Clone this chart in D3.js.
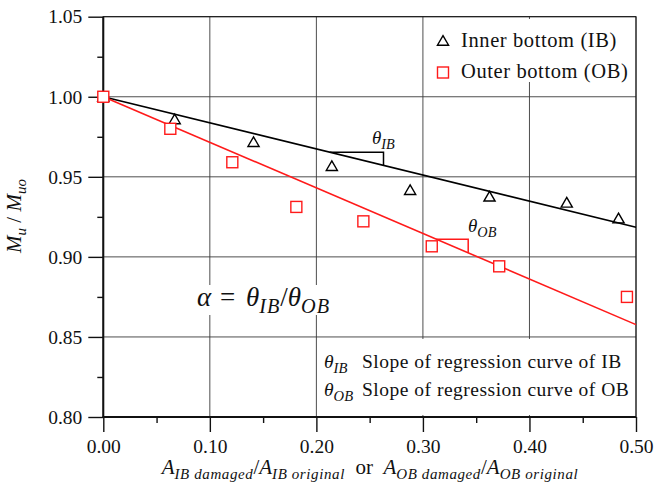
<!DOCTYPE html>
<html>
<head>
<meta charset="utf-8">
<script src="https://cdn.jsdelivr.net/npm/d3@7"></script>
<style>
  html, body { margin: 0; padding: 0; background: #fff; }
</style>
</head>
<body>
<svg id="chart" width="656" height="489"></svg>
<script>
// Area ratio of the damaged bottom structure (x) and ultimate strength ratio (y)
const ibRatio    = [0.000, 0.067, 0.141, 0.2145, 0.288, 0.3625, 0.435, 0.4836];
const ibStrength = [1.000, 0.9858, 0.9716, 0.9566, 0.9416, 0.9375, 0.9337, 0.9239];
const obRatio    = [0.000, 0.0629, 0.1211, 0.1812, 0.2441, 0.3083, 0.3716, 0.4915];
const obStrength = [1.000, 0.980, 0.9591, 0.9312, 0.9222, 0.9066, 0.8941, 0.875];

// Regression lines through (0, 1): slopes
const ibSlope = -0.163;
const obSlope = -0.2846;

const xTicks = [0.0, 0.1, 0.2, 0.3, 0.4, 0.5];
const yTicks = [0.80, 0.85, 0.90, 0.95, 1.00, 1.05];
const xMinor = [0.05, 0.15, 0.25, 0.35, 0.45];
const yMinor = [0.825, 0.875, 0.925, 0.975, 1.025];

const FONT = "Liberation Serif";
const svg = d3.select("#chart");
const L = 103.3, R = 636, T = 16.7, B = 417;
const x = d3.scaleLinear().domain([0, 0.5]).range([L, R]);
const y = d3.scaleLinear().domain([0.80, 1.05]).range([B, T]);

const grid = "#3a3a3a";
// grid lines
svg.append("g").selectAll("line").data(xTicks).join("line")
  .attr("x1", d => x(d)).attr("x2", d => x(d)).attr("y1", T).attr("y2", B)
  .attr("stroke", grid).attr("stroke-width", 0.9);
svg.append("g").selectAll("line").data(yTicks).join("line")
  .attr("x1", L).attr("x2", R).attr("y1", d => y(d)).attr("y2", d => y(d))
  .attr("stroke", grid).attr("stroke-width", 0.9);

// axes with outward ticks
const xAxis = svg.append("g").attr("transform", `translate(0,${B})`)
  .call(d3.axisBottom(x).tickValues(xTicks).tickSize(15).tickPadding(7).tickFormat(d3.format(".2f")));
const yAxis = svg.append("g").attr("transform", `translate(${L},0)`)
  .call(d3.axisLeft(y).tickValues(yTicks).tickSize(15).tickPadding(6).tickFormat(d3.format(".2f")));
svg.append("g").attr("transform", `translate(0,${B})`)
  .call(d3.axisBottom(x).tickValues(xMinor).tickSize(6).tickFormat(""))
  .call(g => g.select(".domain").remove());
svg.append("g").attr("transform", `translate(${L},0)`)
  .call(d3.axisLeft(y).tickValues(yMinor).tickSize(6).tickFormat(""))
  .call(g => g.select(".domain").remove());
[xAxis, yAxis].forEach(g => {
  g.select(".domain").remove();
  g.attr("font-family", FONT).attr("font-size", 19.5);
  g.selectAll("text").attr("font-family", FONT).attr("font-size", 19.5).attr("fill", "#111");
});
svg.selectAll(".tick line").attr("stroke", "#111").attr("stroke-width", 1.4);

// frame
svg.append("rect").attr("x", L).attr("y", T).attr("width", R - L).attr("height", B - T)
  .attr("fill", "none").attr("stroke", "#111").attr("stroke-width", 1);
svg.append("line").attr("x1", L).attr("x2", L).attr("y1", T).attr("y2", B + 0.7)
  .attr("stroke", "#111").attr("stroke-width", 2);
svg.append("line").attr("x1", L - 0.7).attr("x2", R).attr("y1", B).attr("y2", B)
  .attr("stroke", "#111").attr("stroke-width", 2);

// white panels behind the annotations
svg.append("rect").attr("x", 426).attr("y", 19).attr("width", 208).attr("height", 63).attr("fill", "#fff");
svg.append("rect").attr("x", 318).attr("y", 339).attr("width", 316.5).attr("height", 76).attr("fill", "#fff");
svg.append("rect").attr("x", 190).attr("y", 285).attr("width", 146).attr("height", 30).attr("fill", "#fff");

// regression lines
svg.append("line").attr("x1", x(0)).attr("y1", y(1)).attr("x2", x(0.5)).attr("y2", y(1 + ibSlope * 0.5))
  .attr("stroke", "#000").attr("stroke-width", 1.6);
svg.append("line").attr("x1", x(0)).attr("y1", y(1)).attr("x2", x(0.5)).attr("y2", y(1 + obSlope * 0.5))
  .attr("stroke", "#ff1a1a").attr("stroke-width", 1.6);

// slope brackets
function bracket(x0, x1, slope, color) {
  const y0 = 1 + slope * x0, y1 = 1 + slope * x1;
  svg.append("path")
    .attr("d", `M${x(x0)},${y(y0)} H${x(x1)} V${y(y1)}`)
    .attr("fill", "none").attr("stroke", color).attr("stroke-width", 1.5);
}
bracket(0.2125, 0.263, ibSlope, "#000");
bracket(0.3125, 0.3425, obSlope, "#ff1a1a");

// markers
const tri = d3.symbol().type(d3.symbolTriangle).size(54);
svg.append("g").selectAll("path").data(ibRatio.map((v, i) => [v, ibStrength[i]])).join("path")
  .attr("d", tri).attr("transform", d => `translate(${x(d[0])},${y(d[1]) + 1})`)
  .attr("fill", "none").attr("stroke", "#000").attr("stroke-width", 1.4);
svg.append("g").selectAll("rect").data(obRatio.map((v, i) => [v, obStrength[i]])).join("rect")
  .attr("x", d => x(d[0]) - 5.5).attr("y", d => y(d[1]) - 5.5).attr("width", 11).attr("height", 11)
  .attr("fill", "#fff").attr("stroke", "#ff1a1a").attr("stroke-width", 1.4);

// legend
svg.append("path").attr("d", tri).attr("transform", "translate(443,42)")
  .attr("fill", "none").attr("stroke", "#000").attr("stroke-width", 1.4);
svg.append("rect").attr("x", 437.5).attr("y", 67).attr("width", 11).attr("height", 11)
  .attr("fill", "#fff").attr("stroke", "#ff1a1a").attr("stroke-width", 1.4);

function plainText(xx, yy, size, s, ls) {
  return svg.append("text").attr("x", xx).attr("y", yy)
    .attr("font-family", FONT).attr("font-size", size).attr("letter-spacing", ls)
    .attr("fill", "#111").text(s);
}
plainText(461, 47, 20.5, "Inner bottom (IB)", 0.6);
plainText(461, 78, 20.5, "Outer bottom (OB)", 0.6);

// helper for text with italic math subscripts
function mathText(xx, yy, size, parts) {
  const t = svg.append("text").attr("x", xx).attr("y", yy)
    .attr("font-family", FONT).attr("font-size", size).attr("fill", "#111");
  parts.forEach(p => {
    const s = t.append("tspan").text(p.t);
    if (p.i) s.attr("font-style", "italic");
    if (p.sub) s.attr("font-size", size * 0.75).attr("dy", size * 0.27);
    if (p.up) s.attr("dy", -size * 0.27);
    if (p.ls) s.attr("letter-spacing", p.ls);
  });
  return t;
}

// slope labels
mathText(372, 144, 19, [{t: "θ", i: true}, {t: "IB", i: true, sub: true}]);
mathText(468, 232, 19, [{t: "θ", i: true}, {t: "OB", i: true, sub: true}]);

// alpha definition
mathText(197, 306, 27, [
  {t: "α", i: true}, {t: " = ", ls: 2}, {t: "θ", i: true}, {t: "IB", i: true, sub: true, ls: 1},
  {t: "/", up: true}, {t: "θ", i: true}, {t: "OB", i: true, sub: true, ls: 1}
]);

// notes panel
mathText(324, 368, 19.5, [{t: "θ", i: true}, {t: "IB", i: true, sub: true}]);
mathText(324, 396, 19.5, [{t: "θ", i: true}, {t: "OB", i: true, sub: true}]);
plainText(362, 368, 19.5, "Slope of regression curve of IB", 0.5);
plainText(362, 396, 19.5, "Slope of regression curve of OB", 0.5);

// axis titles
const yl = svg.append("text").attr("transform", "translate(21,216) rotate(-90)")
  .attr("text-anchor", "middle").attr("font-family", FONT).attr("font-size", 21).attr("fill", "#111");
yl.append("tspan").attr("font-style", "italic").text("M");
yl.append("tspan").attr("font-style", "italic").attr("font-size", 15).attr("dy", 5).text("u");
yl.append("tspan").attr("dy", -5).text(" / ");
yl.append("tspan").attr("font-style", "italic").text("M");
yl.append("tspan").attr("font-style", "italic").attr("font-size", 15).attr("dy", 5).text("uo");

const xl = svg.append("text").attr("x", 370).attr("y", 474).attr("text-anchor", "middle")
  .attr("font-family", FONT).attr("font-size", 21).attr("fill", "#111");
[["A", 0], ["IB damaged", 1], ["/", -1], ["A", 0], ["IB original", 1], ["\u2002or\u2002", -2], ["A", 0], ["OB damaged", 1], ["/", -1], ["A", 0], ["OB original", 1]]
  .forEach(([s, k]) => {
    const ts = xl.append("tspan").text(s);
    if (k === 0 || k === 1) ts.attr("font-style", "italic");
    if (k === 1) ts.attr("font-size", 15).attr("letter-spacing", 0.6).attr("dy", 5);
    if (k === -1 || k === -2) ts.attr("dy", -5);
  });
</script>
</body>
</html>
